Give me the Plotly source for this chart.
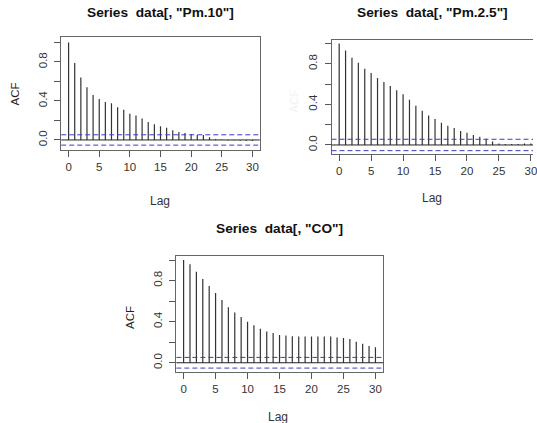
import plotly.graph_objects as go

lags = list(range(0, 31))
acf_pm10 = [1.0, 0.79, 0.64, 0.54, 0.46, 0.42, 0.39, 0.376, 0.335, 0.31, 0.27,
            0.25, 0.22, 0.185, 0.16, 0.14, 0.126, 0.10, 0.082, 0.072, 0.062,
            0.052, 0.05, 0.028, 0.01, 0.004, -0.005, -0.006, -0.008, -0.01, -0.01]
acf_pm25 = [1.0, 0.93, 0.86, 0.81, 0.75, 0.71, 0.66, 0.62, 0.58, 0.54, 0.50,
            0.446, 0.387, 0.338, 0.29, 0.256, 0.22, 0.19, 0.167, 0.138, 0.12,
            0.098, 0.082, 0.062, 0.033, 0.015, 0.01, 0.01, 0.01, 0.015, 0.015]
acf_co = [1.0, 0.958, 0.886, 0.815, 0.747, 0.679, 0.61, 0.54, 0.49, 0.445, 0.40,
          0.364, 0.33, 0.305, 0.29, 0.27, 0.265, 0.258, 0.255, 0.255, 0.255,
          0.255, 0.255, 0.255, 0.245, 0.24, 0.23, 0.205, 0.185, 0.163, 0.15]
conf_limits = [0.053, 0.056, 0.052]
titles = ['Series\u00a0 data[, "Pm.10"]', 'Series\u00a0 data[, "Pm.2.5"]', 'Series\u00a0 data[, "CO"]']
series = [acf_pm10, acf_pm25, acf_co]
xtick_vals = [0, 5, 10, 15, 20, 25, 30]
ytick_vals = [0.0, 0.2, 0.4, 0.6, 0.8, 1.0]
ytick_text = ["0.0", "", "0.4", "", "0.8", ""]

W, H = 537, 423
FONT = "Arial, Liberation Sans, Helvetica, sans-serif"

# panel boxes in pixels: (left, right, top, bottom), x range, y range
panels = [
    dict(box=(61.7, 261.7, 37.3, 150.0), xr=[-1.2, 31.2], yr=[-0.103, 1.053], mirror_y=True,
         title=(161.7, 12.5), lag=(161.7, 201.5), acf=(15.5, 94), acf_color="#222"),
    dict(box=(334.0, 537.0, 40.0, 154.0), xr=[-1.2, 30.33], yr=[-0.089, 1.034], mirror_y=False,
         title=(436, 12.5), lag=(435, 198), acf=(296, 101), acf_color="#f2f2f6"),
    dict(box=(177.7, 386.0, 256.0, 372.3), xr=[-1.13, 31.2], yr=[-0.093, 1.039], mirror_y=True,
         title=(281.7, 228), lag=(280, 416.5), acf=(131, 318), acf_color="#222"),
]

fig = go.Figure()
shapes = []
annotations = []
for i, (p, vals, ttl, ci) in enumerate(zip(panels, series, titles, conf_limits)):
    n = "" if i == 0 else str(i + 1)
    xs, ys = [], []
    for lag, v in zip(lags, vals):
        xs += [lag, lag, None]
        ys += [0, v, None]
    fig.add_trace(go.Scatter(x=xs, y=ys, mode="lines", line=dict(color="#333333", width=1.2),
                             xaxis="x" + n, yaxis="y" + n, showlegend=False, hoverinfo="skip"))
    l, r, t, b = p["box"]
    common = dict(showgrid=False, zeroline=False, showline=True, linecolor="#666", linewidth=1,
                  ticks="outside", ticklen=6, tickcolor="#555", tickwidth=1,
                  ticklabeloverflow="allow",
                  tickfont=dict(family=FONT, size=11.5, color="#333"))
    fig.layout["xaxis" + n] = dict(domain=[l / W, min(r / W, 1.0)], range=p["xr"], anchor="y" + n,
                                   tickvals=xtick_vals, mirror=True, **common)
    fig.layout["yaxis" + n] = dict(domain=[1 - b / H, 1 - t / H], range=p["yr"], anchor="x" + n,
                                   tickvals=ytick_vals, ticktext=ytick_text, tickangle=-90,
                                   ticklabelstandoff=3,
                                   mirror=p["mirror_y"], **common)
    xd = "x" + n + " domain"
    shapes.append(dict(type="line", xref=xd, x0=0, x1=1, yref="y" + n, y0=0, y1=0,
                       line=dict(color="#222", width=1)))
    for c in (ci, -ci):
        shapes.append(dict(type="line", xref=xd, x0=0, x1=1, yref="y" + n, y0=c, y1=c,
                           line=dict(color="#3b3bc8", width=1, dash="5px,3px")))
    tx, ty = p["title"]
    annotations.append(dict(text="<b>" + ttl + "</b>", x=tx / W, y=1 - ty / H, xref="paper", yref="paper",
                            showarrow=False, xanchor="center", yanchor="middle",
                            font=dict(family=FONT, size=13.7, color="#111")))
    lx, ly = p["lag"]
    annotations.append(dict(text="Lag", x=lx / W, y=1 - ly / H, xref="paper", yref="paper",
                            showarrow=False, xanchor="center", yanchor="middle",
                            font=dict(family=FONT, size=12, color="#333")))
    ax, ay = p["acf"]
    annotations.append(dict(text="ACF", x=ax / W, y=1 - ay / H, xref="paper", yref="paper",
                            showarrow=False, xanchor="center", yanchor="middle", textangle=-90,
                            font=dict(family=FONT, size=11.5, color=p["acf_color"])))

fig.update_layout(width=W, height=H, margin=dict(l=0, r=0, t=0, b=0),
                  paper_bgcolor="white", plot_bgcolor="white",
                  shapes=shapes, annotations=annotations, showlegend=False)
fig.write_html("out.html", config={"displayModeBar": False})
